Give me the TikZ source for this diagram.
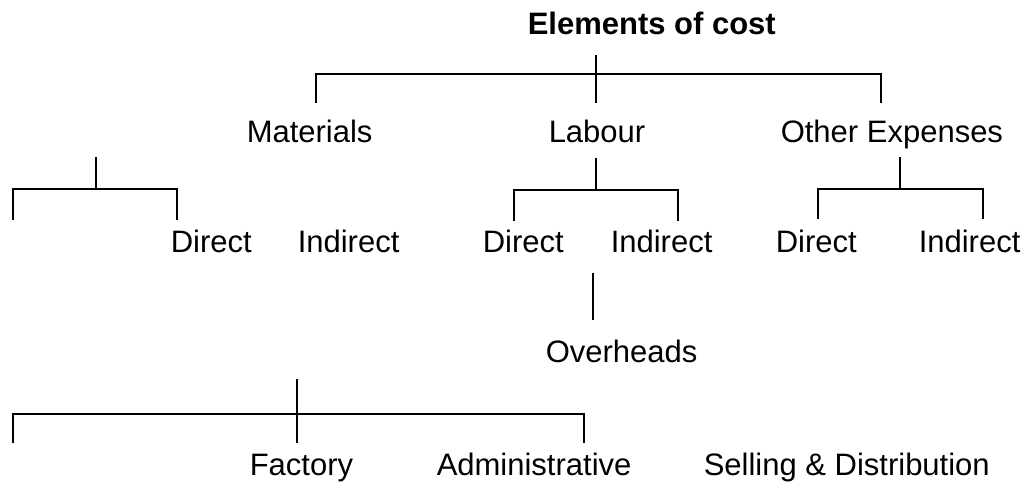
\documentclass[tikz,border=0pt]{standalone}
\usepackage{fontspec}
\setmainfont{Liberation Sans}

\begin{document}
\begin{tikzpicture}[x=1pt, y=-1pt, line width=1.5pt,
    lbl/.style={anchor=base west, inner sep=0pt, font=\fontsize{31}{36}\selectfont},
    ttl/.style={lbl, font=\fontsize{31}{36}\selectfont\bfseries}]
  \useasboundingbox (0,0) rectangle (1029,483);

  \node[ttl] (cost) at (527,34) {Elements of cost};

  % first split
  \coordinate (costTop) at (596,55);  \coordinate (costBot) at (596,103);
  \coordinate (costL) at (316,74);    \coordinate (costR) at (881,74);
  \coordinate (costLd) at (316,103);  \coordinate (costRd) at (881,103);
  \draw (costTop) -- (costBot);
  \draw (costLd) -- (costL) -- (costR) -- (costRd);

  \node[lbl] (mat) at (246,142) {Materials};
  \node[lbl] (lab) at (548,142) {Labour};
  \node[lbl] (oth) at (780,142) {Other Expenses};

  % materials
  \coordinate (matTop) at (96,157);  \coordinate (matBot) at (96,189);
  \coordinate (matL) at (13,189);    \coordinate (matR) at (177,189);
  \coordinate (matLd) at (13,220);   \coordinate (matRd) at (177,220);
  \draw (matTop) -- (matBot);
  \draw (matLd) -- (matL) -- (matR) -- (matRd);

  % labour
  \coordinate (labTop) at (596,158); \coordinate (labBot) at (596,190);
  \coordinate (labL) at (514,190);   \coordinate (labR) at (678,190);
  \coordinate (labLd) at (514,221);  \coordinate (labRd) at (678,221);
  \draw (labTop) -- (labBot);
  \draw (labLd) -- (labL) -- (labR) -- (labRd);

  % other expenses
  \coordinate (othTop) at (900,157); \coordinate (othBot) at (900,189);
  \coordinate (othL) at (818,189);   \coordinate (othR) at (983,189);
  \coordinate (othLd) at (818,219);  \coordinate (othRd) at (983,219);
  \draw (othTop) -- (othBot);
  \draw (othLd) -- (othL) -- (othR) -- (othRd);

  \node[lbl] (matDir) at (170,252) {Direct};
  \node[lbl] (matInd) at (297,252) {Indirect};
  \node[lbl] (labDir) at (482,252) {Direct};
  \node[lbl] (labInd) at (610,252) {Indirect};
  \node[lbl] (othDir) at (775,252) {Direct};
  \node[lbl] (othInd) at (918,252) {Indirect};

  \coordinate (ovhTop) at (593,273); \coordinate (ovhBot) at (593,320);
  \draw (ovhTop) -- (ovhBot);
  \node[lbl] (ovh) at (545,362) {Overheads};

  % overheads split
  \coordinate (splTop) at (297,379); \coordinate (splBot) at (297,443);
  \coordinate (splL) at (13,414);    \coordinate (splR) at (584,414);
  \coordinate (splLd) at (13,443);   \coordinate (splRd) at (584,443);
  \draw (splTop) -- (splBot);
  \draw (splLd) -- (splL) -- (splR) -- (splRd);

  \node[lbl] (fac) at (249,475) {Factory};
  \node[lbl] (adm) at (436,475) {Administrative};
  \node[lbl] (sell) at (703,475) {Selling \& Distribution};
\end{tikzpicture}
\end{document}
